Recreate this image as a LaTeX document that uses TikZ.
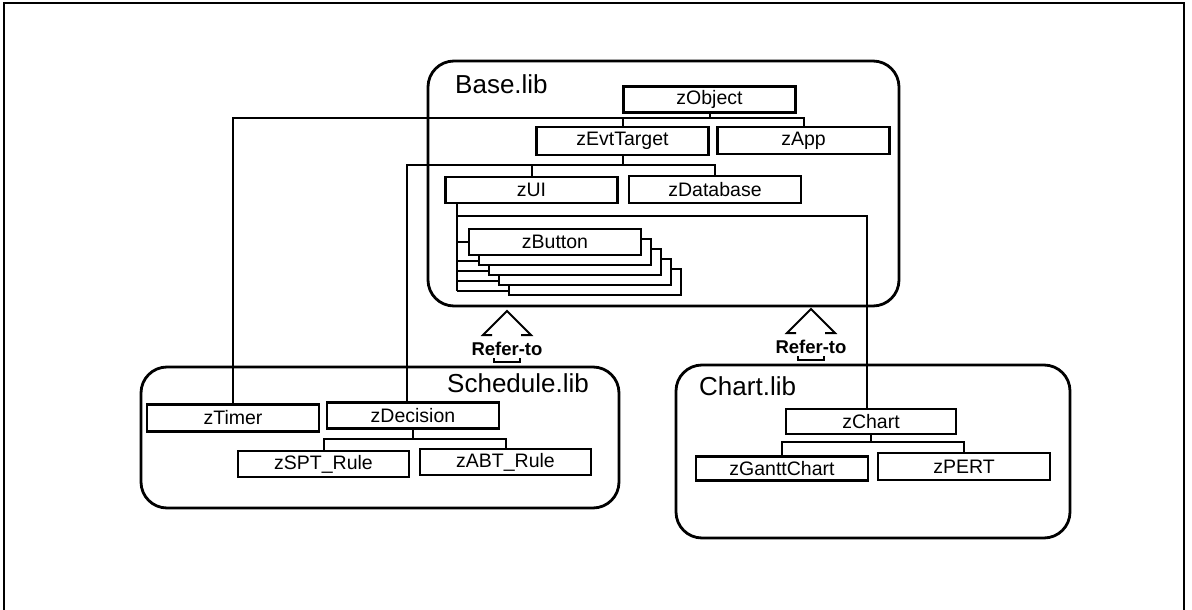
\documentclass[tikz,border=0pt]{standalone}
\usepackage{fontspec}
\setmainfont{Liberation Sans}
\begin{document}
\begin{tikzpicture}[x=1pt,y=-1pt,
  cls/.style={draw, line width=2.3pt, fill=white, minimum width=172pt,
    minimum height=26pt, inner sep=0pt, font=\fontsize{19.5}{21}\selectfont},
  lib/.style={draw, line width=2.8pt, rounded corners=26pt, inner sep=0pt},
  libname/.style={font=\fontsize{26}{29}\selectfont, anchor=base west, inner sep=0pt},
  wire/.style={line width=2pt},
  refer/.style={font=\bfseries\fontsize{18.5}{20}\selectfont, inner sep=0pt},
  referto/.pic={
    \node[refer] (-txt) at (0,0) {Refer-to};
    \draw[wire, line join=miter] (-15,-14) -- (-24,-14) -- (0,-38) -- (24,-14) -- (14,-14);
    \draw[line width=2.8pt] (-13,9) -- (-13,13) -- (13,13) -- (13,9);
  }]
\useasboundingbox (0,0) rectangle (1192,610);

% page frame
\draw[line width=1.6pt] (4,610) -- (4,3) -- (1184,3) -- (1184,610);

% libraries
\node[lib, minimum width=471pt, minimum height=245pt] (baselib) at (663.5,183.5) {};
\node[lib, minimum width=478pt, minimum height=141pt] (schedlib) at (380,437.5) {};
\node[lib, minimum width=394pt, minimum height=173pt] (chartlib) at (873,451.5) {};
\node[libname] (baseName) at (455,93) {Base.lib};
\node[libname] (schedName) at (447,392) {Schedule.lib};
\node[libname] (chartName) at (699,395) {Chart.lib};

% Base.lib classes
\node[cls] (zObject) at (709.5,99.5) {zObject};
\node[cls, minimum height=28pt] (zEvtTarget) at (622.5,141) {zEvtTarget};
\node[cls, minimum height=27pt] (zApp) at (803.5,140.5) {zApp};
\node[cls] (zUI) at (531.5,190) {zUI};
\node[cls, minimum height=27pt] (zDatabase) at (715,189.5) {zDatabase};
\node[cls] (btn5) at (595,282) {};
\node[cls] (btn4) at (585,272) {};
\node[cls] (btn3) at (575,262) {};
\node[cls] (btn2) at (565,252) {};
\node[cls] (btn1) at (555,242) {zButton};

% Schedule.lib classes
\node[cls, minimum height=27pt] (zTimer) at (233,418) {zTimer};
\node[cls] (zDecision) at (413,415.5) {zDecision};
\node[cls, minimum width=171pt] (zSPT) at (323.5,464) {zSPT\_Rule};
\node[cls, minimum width=171pt] (zABT) at (505.5,462) {zABT\_Rule};

% Chart.lib classes
\node[cls, minimum width=170pt, minimum height=25pt] (zChart) at (871,421.5) {zChart};
\node[cls, minimum height=24pt] (zGantt) at (782,468.5) {zGanttChart};
\node[cls, minimum height=27pt] (zPERT) at (964,466.5) {zPERT};

% bus levels
\coordinate (b1) at (0,118);
\coordinate (b2) at (0,165);
\coordinate (b3) at (0,216);
\coordinate (b4) at (0,439);
\coordinate (b5) at (0,442);

% zObject subclasses
\draw[wire] (zObject.south) -- (zObject.south |- b1);
\draw[wire] (zTimer.north) -- (zTimer.north |- b1) -- (zApp.north |- b1) -- (zApp.north);
\draw[wire] (zEvtTarget.north) -- (zEvtTarget.north |- b1);

% zEvtTarget subclasses
\coordinate (zDecIn) at ([xshift=-6pt]zDecision.north);
\draw[wire] (zEvtTarget.south) -- (zEvtTarget.south |- b2);
\draw[wire] (zDecIn) -- (zDecIn |- b2) -- (zDatabase.north |- b2) -- (zDatabase.north);
\draw[wire] (zUI.north) -- (zUI.north |- b2);

% zUI subclasses
\coordinate (lad) at ([xshift=13pt]zUI.south west);
\coordinate (t2) at ([yshift=5pt]btn2.south west);
\coordinate (t3) at ([yshift=5pt]btn3.south west);
\coordinate (t4) at ([yshift=5pt]btn4.south west);
\coordinate (t5) at ([yshift=5pt]btn5.south west);
\draw[wire] (lad) -- (lad |- t5);
\draw[wire] (lad |- btn1.west) -- (btn1.west);
\foreach \k in {2,...,5} \draw[wire] (lad |- t\k) -- (t\k);
\coordinate (zChIn) at ([xshift=-4pt]zChart.north);
\draw[wire] (lad |- b3) -- (zChIn |- b3) -- (zChIn);

% zDecision subclasses
\draw[wire] (zDecision.south) -- (zDecision.south |- b4);
\draw[wire] (zSPT.north) -- (zSPT.north |- b4) -- (zABT.north |- b4) -- (zABT.north);

% zChart subclasses
\draw[wire] (zChart.south) -- (zChart.south |- b5);
\draw[wire] (zGantt.north) -- (zGantt.north |- b5) -- (zPERT.north |- b5) -- (zPERT.north);

% library references
\pic (r1) at (507,349) {referto};
\pic (r2) at (811,347) {referto};
\end{tikzpicture}
\end{document}
